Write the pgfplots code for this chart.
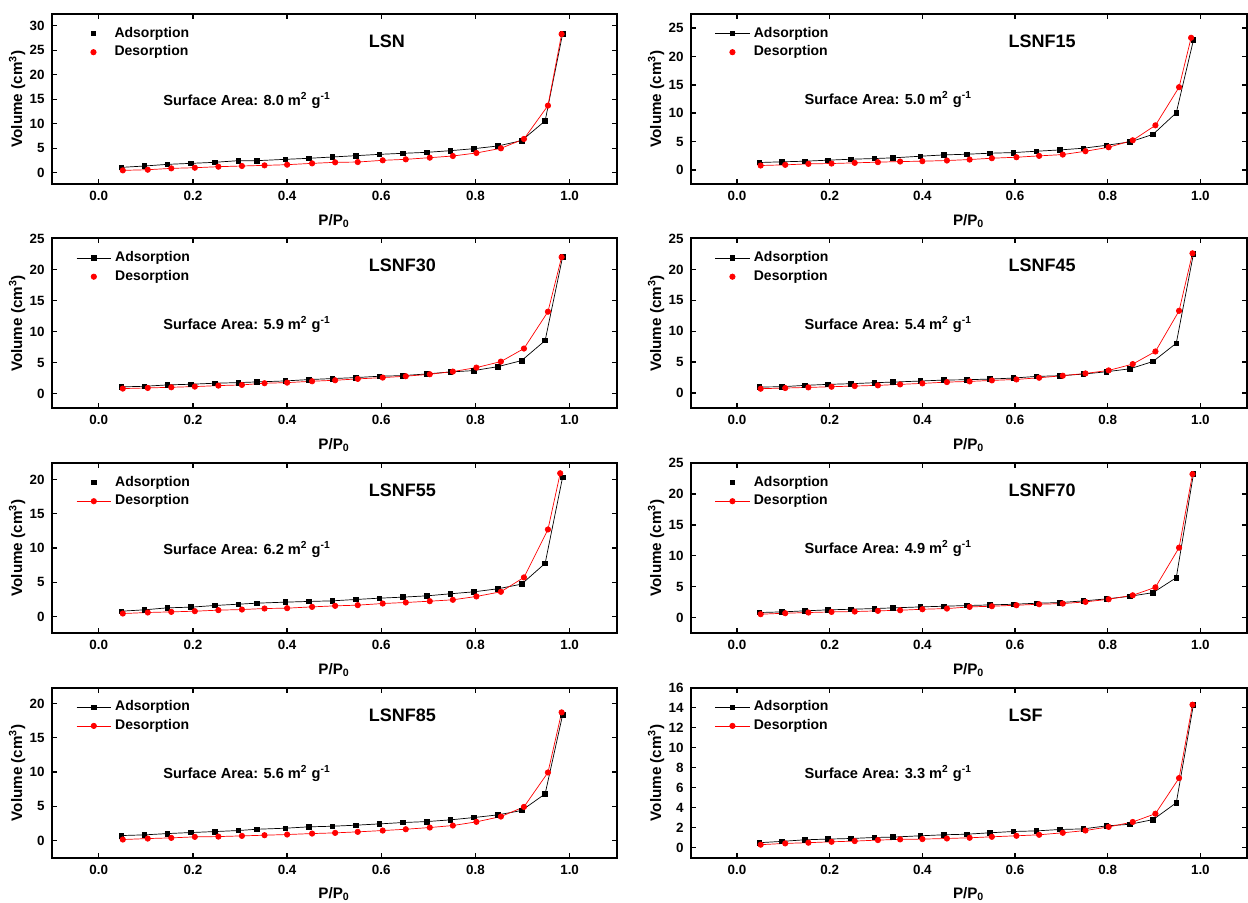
\documentclass[border=0pt]{standalone}
\usepackage{pgfplots}
\usepackage{pgfplotstable}
\usepackage{fontspec}
\setmainfont{Liberation Sans}
\pgfplotsset{compat=1.18}

\pgfplotstableread{
xa ya xd yd
0.048 1.09 0.051 0.48
0.097 1.37 0.104 0.61
0.146 1.71 0.154 0.89
0.196 1.91 0.204 1.02
0.246 2.12 0.254 1.23
0.296 2.46 0.304 1.37
0.336 2.46 0.352 1.50
0.396 2.73 0.400 1.64
0.446 2.94 0.453 1.91
0.496 3.21 0.502 2.12
0.546 3.48 0.550 2.18
0.596 3.75 0.603 2.53
0.646 3.96 0.652 2.73
0.697 4.16 0.703 3.07
0.747 4.50 0.752 3.41
0.797 4.91 0.802 4.03
0.848 5.46 0.854 4.98
0.898 6.55 0.903 6.89
0.948 10.58 0.954 13.7
0.985 28.3 0.983 28.3
}\LSN
\pgfplotstableread{
xa ya xd yd
0.048 1.29 0.051 0.76
0.097 1.41 0.104 0.88
0.146 1.52 0.154 1.05
0.196 1.70 0.204 1.11
0.246 1.87 0.254 1.23
0.296 1.99 0.304 1.35
0.336 2.11 0.352 1.46
0.396 2.40 0.400 1.52
0.446 2.63 0.453 1.64
0.496 2.75 0.502 1.81
0.546 2.93 0.550 2.05
0.596 3.04 0.603 2.22
0.646 3.28 0.652 2.46
0.697 3.51 0.703 2.69
0.747 3.81 0.752 3.28
0.797 4.33 0.802 3.98
0.848 4.92 0.854 5.21
0.898 6.26 0.903 7.85
0.948 10.07 0.954 14.58
0.985 22.9 0.980 23.3
}\LSNFa
\pgfplotstableread{
xa ya xd yd
0.048 1.08 0.051 0.81
0.097 1.18 0.104 0.91
0.146 1.40 0.154 1.02
0.196 1.51 0.204 1.13
0.246 1.67 0.254 1.29
0.296 1.77 0.304 1.40
0.336 1.88 0.352 1.67
0.396 2.04 0.400 1.77
0.446 2.26 0.453 1.99
0.496 2.42 0.502 2.15
0.546 2.58 0.550 2.37
0.596 2.80 0.603 2.58
0.646 2.90 0.652 2.80
0.697 3.17 0.703 3.12
0.747 3.49 0.752 3.55
0.797 3.71 0.802 4.19
0.848 4.35 0.854 5.16
0.898 5.32 0.903 7.26
0.948 8.55 0.954 13.2
0.985 22.0 0.983 22.0
}\LSNFb
\pgfplotstableread{
xa ya xd yd
0.048 0.97 0.051 0.70
0.097 1.02 0.104 0.81
0.146 1.24 0.154 0.91
0.196 1.40 0.204 1.02
0.246 1.51 0.254 1.13
0.296 1.67 0.304 1.24
0.336 1.77 0.352 1.40
0.396 1.94 0.400 1.56
0.446 2.10 0.453 1.77
0.496 2.15 0.502 1.88
0.546 2.26 0.550 2.04
0.596 2.42 0.603 2.20
0.646 2.69 0.652 2.47
0.697 2.80 0.703 2.80
0.747 3.06 0.752 3.17
0.797 3.44 0.802 3.66
0.848 3.92 0.854 4.68
0.898 5.11 0.903 6.72
0.948 8.06 0.954 13.3
0.985 22.5 0.983 22.6
}\LSNFc
\pgfplotstableread{
xa ya xd yd
0.048 0.78 0.051 0.44
0.097 0.98 0.104 0.59
0.146 1.27 0.154 0.68
0.196 1.37 0.204 0.78
0.246 1.61 0.254 0.93
0.296 1.80 0.304 1.02
0.336 1.95 0.352 1.17
0.396 2.10 0.400 1.22
0.446 2.20 0.453 1.41
0.496 2.29 0.502 1.56
0.546 2.49 0.550 1.66
0.596 2.68 0.603 1.90
0.646 2.83 0.652 2.05
0.697 3.02 0.703 2.24
0.747 3.32 0.752 2.44
0.797 3.61 0.802 2.93
0.848 4.05 0.854 3.61
0.898 4.73 0.903 5.71
0.948 7.76 0.954 12.7
0.985 20.3 0.980 20.9
}\LSNFd
\pgfplotstableread{
xa ya xd yd
0.048 0.81 0.051 0.54
0.097 0.91 0.104 0.70
0.146 1.08 0.154 0.81
0.196 1.24 0.204 0.91
0.246 1.34 0.254 0.97
0.296 1.45 0.304 1.08
0.336 1.56 0.352 1.18
0.396 1.72 0.400 1.34
0.446 1.83 0.453 1.45
0.496 1.94 0.502 1.72
0.546 2.04 0.550 1.83
0.596 2.15 0.603 1.99
0.646 2.31 0.652 2.15
0.697 2.42 0.703 2.26
0.747 2.69 0.752 2.53
0.797 3.01 0.802 2.96
0.848 3.44 0.854 3.60
0.898 4.03 0.903 4.89
0.948 6.45 0.954 11.3
0.985 23.2 0.983 23.2
}\LSNFe
\pgfplotstableread{
xa ya xd yd
0.048 0.73 0.051 0.15
0.097 0.83 0.104 0.29
0.146 1.02 0.154 0.39
0.196 1.17 0.204 0.54
0.246 1.31 0.254 0.58
0.296 1.46 0.304 0.68
0.336 1.65 0.352 0.78
0.396 1.80 0.400 0.88
0.446 2.00 0.453 1.02
0.496 2.09 0.502 1.12
0.546 2.24 0.550 1.27
0.596 2.43 0.603 1.46
0.646 2.63 0.652 1.65
0.697 2.77 0.703 1.90
0.747 3.02 0.752 2.19
0.797 3.36 0.802 2.73
0.848 3.75 0.854 3.50
0.898 4.38 0.903 4.91
0.948 6.81 0.954 9.93
0.985 18.3 0.983 18.7
}\LSNFf
\pgfplotstableread{
xa ya xd yd
0.048 0.50 0.051 0.30
0.097 0.63 0.104 0.43
0.146 0.79 0.154 0.50
0.196 0.86 0.204 0.59
0.246 0.92 0.254 0.66
0.296 1.02 0.304 0.76
0.336 1.06 0.352 0.83
0.396 1.19 0.400 0.86
0.446 1.29 0.453 0.92
0.496 1.35 0.502 0.99
0.546 1.49 0.550 1.09
0.596 1.62 0.603 1.19
0.646 1.68 0.652 1.29
0.697 1.82 0.703 1.49
0.747 1.88 0.752 1.72
0.797 2.18 0.802 2.08
0.848 2.34 0.854 2.57
0.898 2.81 0.903 3.40
0.948 4.49 0.954 6.96
0.985 14.3 0.983 14.3
}\LSF

\pgfplotsset{
  iso/.style={
    scale only axis, height=85pt,
    xmin=-0.1, xmax=1.1,
    xtick={0,0.2,0.4,0.6,0.8,1},
    axis line style={line width=1pt},
    tick style={line width=0.7pt, black},
    major tick length=2.5pt,
    tick align=inside,
    /pgf/number format/assume math mode=true,
    ticklabel style={font=\bfseries\fontsize{6.7}{7}\selectfont},
    xticklabel style={/pgf/number format/.cd, fixed, fixed zerofill, precision=1},
    yticklabel style={/pgf/number format/.cd, fixed, precision=0},
    xlabel={P/P\textsubscript{0}},
    ylabel={Volume (cm\textsuperscript{3})},
    label style={font=\bfseries\fontsize{7.6}{8}\selectfont},
    ylabel style={yshift=-4.6pt},
    legend style={draw=none, fill=none, at={(0.043,0.95)}, anchor=north west,
      font=\bfseries\fontsize{7}{8}\selectfont, row sep=-1.2pt, inner sep=0pt},
    legend cell align=left,
  },
  ads/.style={black, line width=0.35pt, mark=square*, mark size=1.15pt},
  des/.style={red, line width=0.35pt, mark=*, mark size=1.35pt},
  mo/.style={legend image code/.code={%
      \path[draw=none, fill=none] (0cm,-1pt) rectangle (0.6cm,1pt);
      \draw[##1, only marks] plot coordinates {(0.3cm,0cm)};}},
}
\tikzset{
  ttl/.style={anchor=west, font=\bfseries\fontsize{9}{10}\selectfont},
  sa/.style={anchor=west, font=\bfseries\fontsize{7.3}{8}\selectfont},
}

\begin{document}
\begin{tikzpicture}
\useasboundingbox (0,0) rectangle (624pt,451.5pt);

% Row 1 left: LSN
\begin{axis}[iso, width=282.5pt, at={(25.85pt,359.5pt)}, anchor=south west,
  ymin=-2.3, ymax=32.4, ytick={0,5,...,30}]
\addplot[ads, mo] table[x=xa, y=ya] {\LSN};
\addplot[des, mo] table[x=xd, y=yd] {\LSN};
\legend{Adsorption, Desorption}
\node[ttl] at (rel axis cs:0.549,0.84) {LSN};
\node[sa] at (rel axis cs:0.185,0.494) {Surface Area: 8.0 m\textsuperscript{2} g\textsuperscript{-1}};
\end{axis}

% Row 1 right: LSNF15
\begin{axis}[iso, width=278pt, at={(345.35pt,359.5pt)}, anchor=south west,
  ymin=-2.5, ymax=27.5, ytick={0,5,...,25}]
\addplot[ads] table[x=xa, y=ya] {\LSNFa};
\addplot[des, mo] table[x=xd, y=yd] {\LSNFa};
\legend{Adsorption, Desorption}
\node[ttl] at (rel axis cs:0.559,0.84) {LSNF15};
\node[sa] at (rel axis cs:0.192,0.497) {Surface Area: 5.0 m\textsuperscript{2} g\textsuperscript{-1}};
\end{axis}

% Row 2 left: LSNF30
\begin{axis}[iso, width=282.5pt, at={(25.85pt,247.25pt)}, anchor=south west,
  ymin=-2.4, ymax=25, ytick={0,5,...,25}]
\addplot[ads] table[x=xa, y=ya] {\LSNFb};
\addplot[des, mo] table[x=xd, y=yd] {\LSNFb};
\legend{Adsorption, Desorption}
\node[ttl] at (rel axis cs:0.549,0.84) {LSNF30};
\node[sa] at (rel axis cs:0.185,0.494) {Surface Area: 5.9 m\textsuperscript{2} g\textsuperscript{-1}};
\end{axis}

% Row 2 right: LSNF45
\begin{axis}[iso, width=278pt, at={(345.35pt,247.25pt)}, anchor=south west,
  ymin=-2.5, ymax=25, ytick={0,5,...,25}]
\addplot[ads] table[x=xa, y=ya] {\LSNFc};
\addplot[des, mo] table[x=xd, y=yd] {\LSNFc};
\legend{Adsorption, Desorption}
\node[ttl] at (rel axis cs:0.559,0.84) {LSNF45};
\node[sa] at (rel axis cs:0.192,0.497) {Surface Area: 5.4 m\textsuperscript{2} g\textsuperscript{-1}};
\end{axis}

% Row 3 left: LSNF55
\begin{axis}[iso, width=282.5pt, at={(25.85pt,135pt)}, anchor=south west,
  ymin=-2.4, ymax=22.4, ytick={0,5,...,20}]
\addplot[ads, mo] table[x=xa, y=ya] {\LSNFd};
\addplot[des] table[x=xd, y=yd] {\LSNFd};
\legend{Adsorption, Desorption}
\node[ttl] at (rel axis cs:0.549,0.84) {LSNF55};
\node[sa] at (rel axis cs:0.185,0.494) {Surface Area: 6.2 m\textsuperscript{2} g\textsuperscript{-1}};
\end{axis}

% Row 3 right: LSNF70
\begin{axis}[iso, width=278pt, at={(345.35pt,135pt)}, anchor=south west,
  ymin=-2.5, ymax=25, ytick={0,5,...,25}]
\addplot[ads, mo] table[x=xa, y=ya] {\LSNFe};
\addplot[des] table[x=xd, y=yd] {\LSNFe};
\legend{Adsorption, Desorption}
\node[ttl] at (rel axis cs:0.559,0.84) {LSNF70};
\node[sa] at (rel axis cs:0.192,0.497) {Surface Area: 4.9 m\textsuperscript{2} g\textsuperscript{-1}};
\end{axis}

% Row 4 left: LSNF85
\begin{axis}[iso, width=282.5pt, at={(25.85pt,22.65pt)}, anchor=south west,
  ymin=-2.5, ymax=22.3, ytick={0,5,...,20}]
\addplot[ads] table[x=xa, y=ya] {\LSNFf};
\addplot[des] table[x=xd, y=yd] {\LSNFf};
\legend{Adsorption, Desorption}
\node[ttl] at (rel axis cs:0.549,0.84) {LSNF85};
\node[sa] at (rel axis cs:0.185,0.494) {Surface Area: 5.6 m\textsuperscript{2} g\textsuperscript{-1}};
\end{axis}

% Row 4 right: LSF
\begin{axis}[iso, width=278pt, at={(345.35pt,22.65pt)}, anchor=south west,
  ymin=-1, ymax=16, ytick={0,2,...,16}]
\addplot[ads] table[x=xa, y=ya] {\LSF};
\addplot[des] table[x=xd, y=yd] {\LSF};
\legend{Adsorption, Desorption}
\node[ttl] at (rel axis cs:0.559,0.84) {LSF};
\node[sa] at (rel axis cs:0.192,0.497) {Surface Area: 3.3 m\textsuperscript{2} g\textsuperscript{-1}};
\end{axis}
\end{tikzpicture}
\end{document}
